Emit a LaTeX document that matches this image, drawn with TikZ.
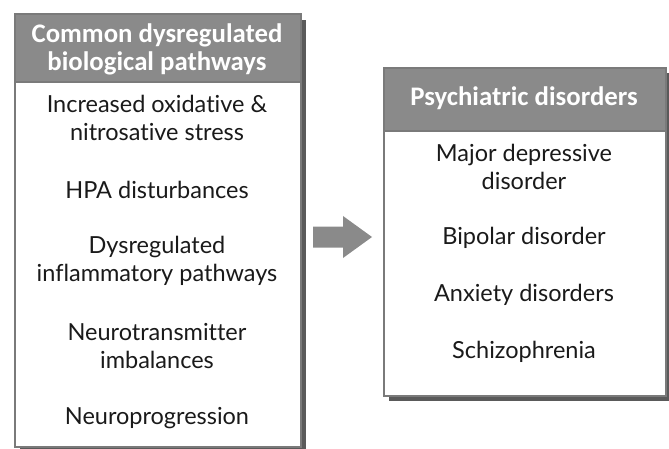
\documentclass[tikz,border=0pt]{standalone}
\usepackage{fontspec}
\setmainfont{Lato}[Ligatures={NoCommon}]
\newfontfamily\headfont{Carlito}
\definecolor{hdr}{HTML}{8A8A8A}
\definecolor{brd}{HTML}{7A7A7A}
\definecolor{shd}{HTML}{5A5A5A}
\definecolor{txt}{HTML}{1A1A1A}
\tikzset{
  boxframe/.style={draw=brd, line width=2pt, fill=white, anchor=north west, inner sep=0pt},
  hdrbox/.style={fill=hdr, draw=brd, line width=2pt, anchor=north west, inner sep=0pt},
  shadowbox/.style={fill=shd, draw=none, anchor=north west, inner sep=0pt},
  htext/.style={font=\headfont\bfseries\fontsize{26.8}{28}\selectfont, text=white, align=center, inner sep=0pt},
  btext/.style={font=\fontsize{23.5}{28}\selectfont, text=txt, align=center, inner sep=0pt},
}
\begin{document}
\begin{tikzpicture}[x=1pt,y=-1pt]
\useasboundingbox (0,0) rectangle (669,449);
% left box
\node[shadowbox, minimum width=286pt, minimum height=433pt] (Ls) at (20,20) {};
\node[boxframe, minimum width=286pt, minimum height=433pt] (L) at (14,13) {};
\node[hdrbox, minimum width=286pt, minimum height=68pt] (Lh) at (14,13) {};
\node[htext] (Lt) at (157,49) {Common dysregulated\\biological pathways};
\node[btext] (L1) at (157,118) {Increased oxidative \&\\nitrosative stress};
\node[btext] (L2) at (157,190) {HPA disturbances};
\node[btext] (L3) at (157,261) {Dysregulated\\inflammatory pathways};
\node[btext] (L4) at (157,346) {Neurotransmitter\\imbalances};
\node[btext] (L5) at (157,418) {Neuroprogression};
% right box
\node[shadowbox, minimum width=282pt, minimum height=328pt] (Rs) at (389,73) {};
\node[boxframe, minimum width=282pt, minimum height=328pt] (R) at (383,67) {};
\node[hdrbox, minimum width=282pt, minimum height=63pt] (Rh) at (383,67) {};
\node[htext] (Rt) at (524,98) {Psychiatric disorders};
\node[btext] (R1) at (524,167) {Major depressive\\disorder};
\node[btext] (R2) at (524,238) {Bipolar disorder};
\node[btext] (R3) at (524,295) {Anxiety disorders};
\node[btext] (R4) at (524,352) {Schizophrenia};
% arrow
\coordinate (A0) at (313,237);
\fill[hdr] (A0) ++(0,-10.5) -- ++(30,0) -- ++(0,-10.5) -- (372,237) -- (343,258) -- ++(0,-10.5) -- ++(-30,0) -- cycle;
\end{tikzpicture}
\end{document}
